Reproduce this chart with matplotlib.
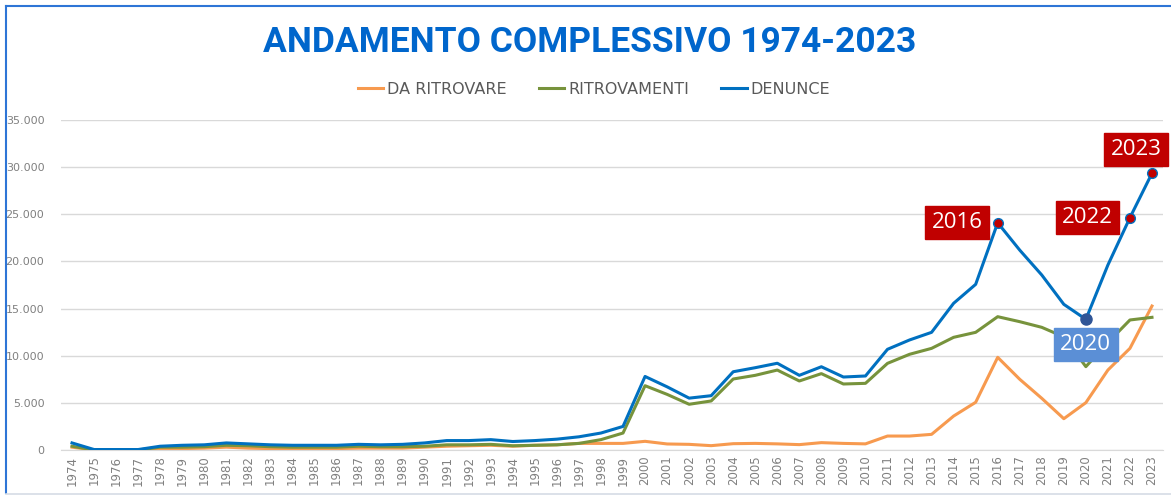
import matplotlib
matplotlib.use("Agg")
import matplotlib.pyplot as plt
from matplotlib.ticker import FuncFormatter, MultipleLocator
from matplotlib.lines import Line2D

years = list(range(1974, 2024))

da_ritrovare = [300, 0, 0, 0, 100, 150, 200, 300, 200, 150,
                150, 150, 150, 200, 200, 200, 300, 400, 450, 500,
                400, 500, 550, 700, 700, 700, 920, 640, 600, 460,
                670, 700, 650, 570, 780, 700, 650, 1480, 1480, 1660,
                3600, 5060, 9830, 7500, 5480, 3320, 5020, 8480, 10780, 15270]

ritrovamenti = [400, 0, 0, 0, 300, 300, 350, 500, 450, 350,
                300, 300, 300, 400, 350, 350, 400, 550, 550, 600,
                450, 500, 550, 700, 1100, 1800, 6820, 5900, 4850, 5200,
                7530, 7920, 8480, 7320, 8100, 7000, 7070, 9190, 10150, 10780,
                11950, 12480, 14140, 13610, 13010, 12000, 8840, 11400, 13790, 14070]

denunce = [750, 50, 50, 50, 400, 500, 550, 750, 650, 550,
           500, 500, 500, 600, 550, 600, 750, 1000, 1000, 1100,
           900, 1000, 1150, 1400, 1800, 2500, 7800, 6700, 5500, 5760,
           8300, 8730, 9200, 7920, 8830, 7740, 7850, 10680, 11670, 12480,
           15560, 17570, 24100, 21200, 18560, 15450, 13860, 19620, 24640, 29350]

series_names = ["DA RITROVARE", "RITROVAMENTI", "DENUNCE"]
highlight_red = [2016, 2022, 2023]
highlight_blue = [2020]

title = "ANDAMENTO COMPLESSIVO 1974-2023"

c_orange = "#F79A4F"
c_green = "#77933C"
c_blue = "#0070C0"
c_red = "#C00000"
c_lblue = "#5B8FD6"
grey = "#808080"

fig = plt.figure(figsize=(11.71, 4.96), dpi=100)
fig.patch.set_facecolor("white")

# frame
fig.add_artist(Line2D([6/1171, 6/1171], [1-6/496, 1-493/496], color="#2E75D6", lw=1.5,
                      transform=fig.transFigure))
fig.add_artist(Line2D([6/1171, 1.0], [1-6/496, 1-6/496], color="#2E75D6", lw=1.5,
                      transform=fig.transFigure))
fig.add_artist(Line2D([6/1171, 1.0], [1-494/496, 1-494/496], color="#D6DCE5", lw=1.2,
                      transform=fig.transFigure))

ax = fig.add_axes([61/1171, 46/496, (1163-61)/1171, (450-120)/496])
x = list(range(len(years)))

ax.plot(x, da_ritrovare, color=c_orange, lw=2.2, label=series_names[0], zorder=3)
ax.plot(x, ritrovamenti, color=c_green, lw=2.2, label=series_names[1], zorder=3)
ax.plot(x, denunce, color=c_blue, lw=2.2, label=series_names[2], zorder=4)

ax.set_xlim(-0.5, len(years) - 0.5)
ax.set_ylim(0, 35000)
ax.yaxis.set_major_locator(MultipleLocator(5000))
ax.yaxis.set_major_formatter(FuncFormatter(lambda v, p: f"{int(v):,}".replace(",", ".")))
ax.set_xticks(x)
ax.set_xticklabels([str(y) for y in years], rotation=90, fontsize=8.5, color=grey)
ax.tick_params(axis="y", labelsize=8, colors=grey, length=0, pad=12)
ax.tick_params(axis="x", length=0, pad=4)
ax.grid(axis="y", color="#D9D9D9", lw=1)
ax.set_axisbelow(True)
for s in ["top", "right", "left"]:
    ax.spines[s].set_visible(False)
ax.spines["bottom"].set_color("#D9D9D9")

# highlighted points
for yr in highlight_red:
    i = years.index(yr)
    ax.plot(i, denunce[i], "o", ms=7, mfc=c_red, mec=c_blue, mew=1, zorder=5)
for yr in highlight_blue:
    i = years.index(yr)
    ax.plot(i, denunce[i], "o", ms=8, mfc="#2F5597", mec="#2F5597", zorder=5)

def label(yr, dx, dy, fc, ha):
    i = years.index(yr)
    ax.annotate(str(yr), (i, denunce[i]), xytext=(dx, dy), textcoords="offset pixels",
                ha=ha, va="center", fontsize=16, color="white", family="Open Sans",
                bbox=dict(boxstyle="square,pad=0.28", fc=fc, ec=fc), zorder=6,
                annotation_clip=False)

label(2016, -15, 0, c_red, "right")
label(2022, -17, 0, c_red, "right")
label(2023, -16, 24, c_red, "center")
label(2020, 0, -25, c_lblue, "center")

fig.text(590/1171, 1-43/496, title, ha="center", va="center", fontsize=25.5,
         fontweight="bold", color="#0066CC", family="Roboto")

handles = [Line2D([], [], color=c, lw=2.2) for c in (c_orange, c_green, c_blue)]
fig.legend(handles, series_names, loc="center", bbox_to_anchor=(594/1171, 1-89/496),
           ncol=3, frameon=False, fontsize=11.5, labelcolor="#595959",
           handlelength=1.6, handletextpad=0.25, columnspacing=2.0)

fig.savefig("out.png", dpi=100)
